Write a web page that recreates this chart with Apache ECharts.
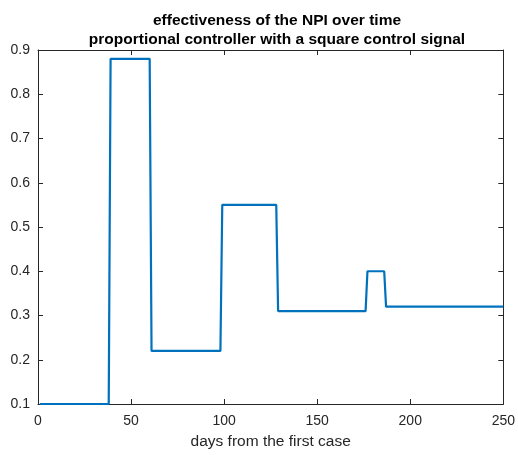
<!DOCTYPE html>
<html><head><meta charset="utf-8">
<script src="https://cdn.jsdelivr.net/npm/echarts@6/dist/echarts.min.js"></script>
<style>html,body{margin:0;padding:0;background:#fff}#c{width:518px;height:455px}</style>
</head><body><div id="c"></div>
<script>
var days = [1, 38, 39, 60, 61, 98, 99, 128, 129, 176, 177, 186, 187, 250];
var effectiveness = [0.1, 0.1, 0.88, 0.88, 0.22, 0.22, 0.55, 0.55, 0.31, 0.31, 0.40, 0.40, 0.32, 0.32];
var titleLines = ['effectiveness of the NPI over time', 'proportional controller with a square control signal'];
var xName = 'days from the first case';

var chart = echarts.init(document.getElementById('c'));
var axCol = '#262626';
var font = 'Liberation Sans, Arial, Helvetica, sans-serif';
function axis(extra){
  return Object.assign({
    type:'value',
    axisLine:{show:true,onZero:false,lineStyle:{color:axCol,width:1}},
    axisTick:{show:true,inside:true,length:5,lineStyle:{color:axCol}},
    splitLine:{show:false},
    axisLabel:{color:axCol,fontSize:14,fontFamily:font}
  }, extra);
}
chart.setOption({
  animation:false,
  backgroundColor:'#fff',
  title:{text:titleLines.join('\n'),left:272,top:6,textAlign:'center',
    textStyle:{fontSize:15.5,fontWeight:'bold',color:'#000',fontFamily:font,lineHeight:19}},
  grid:{left:38,right:11,top:50,bottom:46},
  xAxis:[
    axis({min:0,max:250,interval:50,position:'bottom',name:xName,nameLocation:'middle',nameGap:30,
      nameTextStyle:{color:axCol,fontSize:15.5,fontFamily:font},axisLabel:{color:axCol,fontSize:14,fontFamily:font,margin:10}}),
    axis({min:0,max:250,interval:50,position:'top',axisLabel:{show:false}})
  ],
  yAxis:[
    axis({min:0.1,max:0.9,interval:0.1,position:'left',axisLabel:{color:axCol,fontSize:14,fontFamily:font,margin:8,formatter:function(v){return v.toFixed(1);}}}),
    axis({min:0.1,max:0.9,interval:0.1,position:'right',axisLabel:{show:false}})
  ],
  series:[{type:'line',xAxisIndex:0,yAxisIndex:0,showSymbol:false,
    lineStyle:{color:'#0072BD',width:2.2},
    data:days.map(function(d,i){return [d,effectiveness[i]];})}]
});
</script></body></html>
